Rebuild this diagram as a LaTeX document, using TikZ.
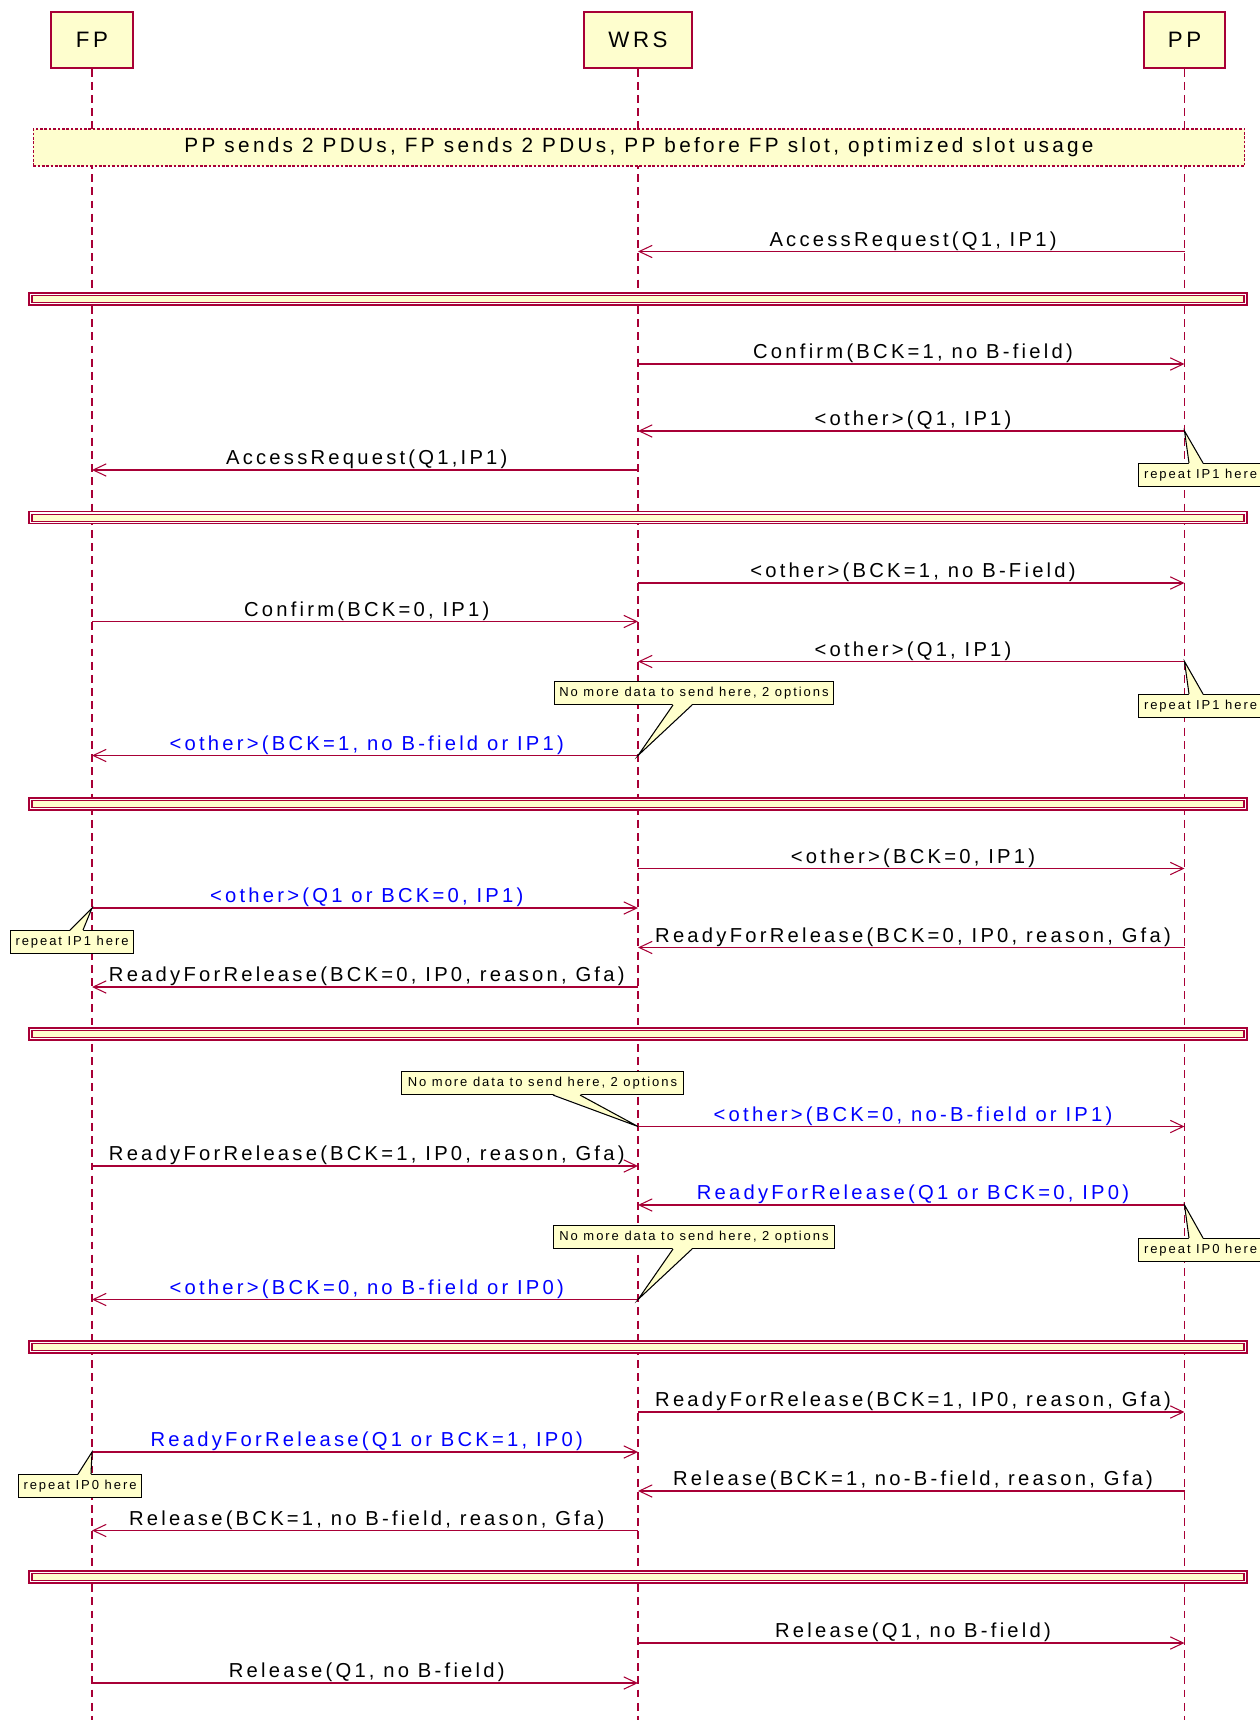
\documentclass[tikz,border=0pt]{standalone}
\usepackage{fontspec}
\setmainfont{Liberation Sans}
\newfontfamily\lblfont[LetterSpace=16]{Liberation Sans}
\newfontfamily\notefont[LetterSpace=15]{Liberation Sans}
\usetikzlibrary{arrows.meta, positioning, calc}
\definecolor{seqred}{RGB}{168, 0, 54}
\definecolor{seqfill}{RGB}{254, 254, 206}
\definecolor{noteyel}{RGB}{255, 255, 204}
\definecolor{seqblue}{RGB}{0, 0, 255}
\tikzset{
    actor/.style = {draw=seqred, line width=0.9pt, fill=seqfill, minimum width=1.64cm, minimum height=1.12cm, inner sep=0pt, font=\lblfont\fontsize{12.7}{14}\selectfont},
    lifeline/.style = {seqred, line width=0.7pt, dash pattern=on 4.5pt off 3pt},
    msgline/.style = {seqred, line width=0.6pt, -{Straight Barb[length=7.4pt, width=7pt]}},
    msglabel/.style = {anchor=base, yshift=3.1pt, xshift=1pt, inner sep=0pt, font=\lblfont\fontsize{11.5}{13}\selectfont},
    divline/.style = {seqred, line width=0.6pt},
    groupnote/.style = {draw=seqred, fill=seqfill, line width=0.6pt, dash pattern=on 1.5pt off 1pt, minimum width=24.24cm, minimum height=0.74cm, inner sep=0pt, font=\lblfont\fontsize{11.8}{13}\selectfont},
    seqnote/.style = {draw=black, fill=noteyel, line width=0.6pt, anchor=north west, minimum height=0.46cm, inner sep=0pt, font=\notefont\fontsize{7.4}{8.5}\selectfont},
    callout/.style = {fill=noteyel},
    calloutline/.style = {black, line width=0.6pt}
}
% message between two lifelines: [colour]{from}{to}{y}{label}{name}
\newcommand{\seqmsg}[6][black]{%
  \coordinate (#6-s) at (#2 |- 0,#4);
  \coordinate (#6-e) at (#3 |- 0,#4);
  \draw[msgline] (#6-s) -- node[msglabel, text=#1] {#5} (#6-e);
}

\begin{document}
\begin{tikzpicture}[x=0.02cm, y=-0.02cm]
  \useasboundingbox (0,0) rectangle (1260,1720);

  % participants
  \node[actor] (FP) at (92,40) {FP};
  \node[actor, minimum width=2.16cm] (WRS) at (638,40) {WRS};
  \node[actor, minimum width=1.62cm] (PP) at (1184.5,40) {PP};
  \foreach \p in {FP, WRS, PP}
    \draw[lifeline] (\p.south) -- (\p |- 0,1720);

  \node[groupnote] (scenario) at (639,147.5) {PP sends 2 PDUs, FP sends 2 PDUs, PP before FP slot, optimized slot usage};

  % separators
  \foreach \y in {299, 517.6, 804, 1034, 1347, 1577} {
    \draw[divline, fill=white] (29,\y-6) rectangle (1247,\y+6);
    \draw[divline, fill=seqfill] (32,\y-3.5) rectangle (1244,\y+3.5);
  }

  \seqmsg{PP}{WRS}{251.5}{AccessRequest(Q1, IP1)}{m1}
  \seqmsg{WRS}{PP}{364}{Confirm(BCK=1, no B-field)}{m2}
  \seqmsg{PP}{WRS}{431}{<other>(Q1, IP1)}{m3}
  \seqmsg{WRS}{FP}{470}{AccessRequest(Q1,IP1)}{m4}
  \seqmsg{WRS}{PP}{583}{<other>(BCK=1, no B-Field)}{m5}
  \seqmsg{FP}{WRS}{621.5}{Confirm(BCK=0, IP1)}{m6}
  \seqmsg{PP}{WRS}{661.5}{<other>(Q1, IP1)}{m7}
  \seqmsg[seqblue]{WRS}{FP}{755.5}{<other>(BCK=1, no B-field or IP1)}{m8}
  \seqmsg{WRS}{PP}{868.5}{<other>(BCK=0, IP1)}{m9}
  \seqmsg[seqblue]{FP}{WRS}{908}{<other>(Q1 or BCK=0, IP1)}{m10}
  \seqmsg{PP}{WRS}{947.5}{ReadyForRelease(BCK=0, IP0, reason, Gfa)}{m11}
  \seqmsg{WRS}{FP}{987}{ReadyForRelease(BCK=0, IP0, reason, Gfa)}{m12}
  \seqmsg[seqblue]{WRS}{PP}{1126.5}{<other>(BCK=0, no-B-field or IP1)}{m13}
  \seqmsg{FP}{WRS}{1166}{ReadyForRelease(BCK=1, IP0, reason, Gfa)}{m14}
  \seqmsg[seqblue]{PP}{WRS}{1205}{ReadyForRelease(Q1 or BCK=0, IP0)}{m15}
  \seqmsg[seqblue]{WRS}{FP}{1299.5}{<other>(BCK=0, no B-field or IP0)}{m16}
  \seqmsg{WRS}{PP}{1412}{ReadyForRelease(BCK=1, IP0, reason, Gfa)}{m17}
  \seqmsg[seqblue]{FP}{WRS}{1452}{ReadyForRelease(Q1 or BCK=1, IP0)}{m18}
  \seqmsg{PP}{WRS}{1491}{Release(BCK=1, no-B-field, reason, Gfa)}{m19}
  \seqmsg{WRS}{FP}{1530.5}{Release(BCK=1, no B-field, reason, Gfa)}{m20}
  \seqmsg{WRS}{PP}{1643}{Release(Q1, no B-field)}{m21}
  \seqmsg{FP}{WRS}{1683}{Release(Q1, no B-field)}{m22}

  % notes below the message
  \node[seqnote, minimum width=2.48cm] (r1) at (1138,463) {repeat IP1 here};
  \node[seqnote, minimum width=2.48cm] (r2) at (1138,694) {repeat IP1 here};
  \node[seqnote, minimum width=2.48cm] (r3) at (1138,1238) {repeat IP0 here};
  \node[seqnote, minimum width=2.46cm] (r4) at (10,930) {repeat IP1 here};
  \node[seqnote, minimum width=2.46cm] (r5) at (18,1474) {repeat IP0 here};
  \foreach \n/\m in {r1/m3, r2/m7, r3/m15} {
    \fill[callout] ($(\n.north west)+(51,1)$) -- (\m-s) -- ($(\n.north west)+(65,1)$) -- cycle;
    \draw[calloutline] ($(\n.north west)+(51,0)$) -- (\m-s) -- ($(\n.north west)+(65,0)$);
  }
  \foreach \n/\m in {r4/m10, r5/m18} {
    \fill[callout] ($(\n.north west)+(60,1)$) -- (\m-s) -- ($(\n.north west)+(73,1)$) -- cycle;
    \draw[calloutline] ($(\n.north west)+(60,0)$) -- (\m-s) -- ($(\n.north west)+(73,0)$);
  }

  % notes above the message
  \node[seqnote, minimum width=5.58cm] (n1) at (554,681) {No more data to send here, 2 options};
  \node[seqnote, minimum width=5.64cm] (n2) at (401,1071) {No more data to send here, 2 options};
  \node[seqnote, minimum width=5.62cm] (n3) at (553,1225) {No more data to send here, 2 options};
  \foreach \n/\m/\a/\b in {n1/m8/119/138, n2/m13/152/179, n3/m16/120/139} {
    \fill[callout] ($(\n.south west)+(\a,-1)$) -- (\m-s) -- ($(\n.south west)+(\b,-1)$) -- cycle;
    \draw[calloutline] ($(\n.south west)+(\a,0)$) -- (\m-s) -- ($(\n.south west)+(\b,0)$);
  }
\end{tikzpicture}
\end{document}
